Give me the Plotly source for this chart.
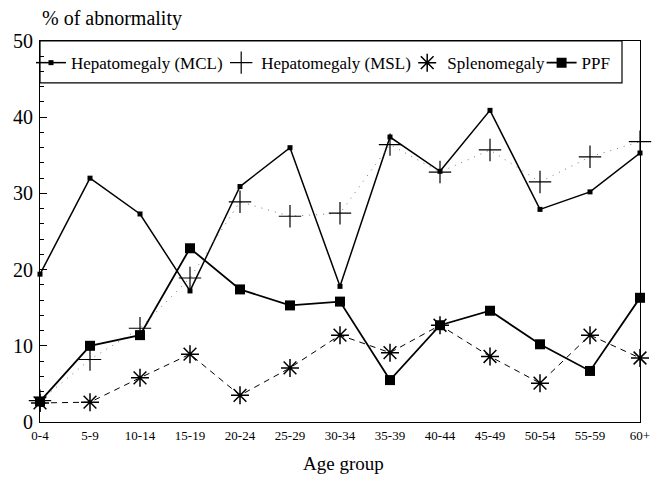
import plotly.graph_objects as go

age_groups = ["0-4", "5-9", "10-14", "15-19", "20-24", "25-29", "30-34",
              "35-39", "40-44", "45-49", "50-54", "55-59", "60+"]
hep_mcl = [19.4, 32.0, 27.3, 17.2, 30.9, 36.0, 17.8, 37.4, 32.9, 40.9, 27.9, 30.2, 35.3]
hep_msl = [2.8, 8.2, 12.3, 18.9, 28.9, 27.0, 27.4, 36.4, 32.8, 35.7, 31.5, 34.8, 36.8]
spleno = [2.5, 2.6, 5.8, 8.9, 3.5, 7.1, 11.4, 9.1, 12.7, 8.6, 5.1, 11.4, 8.4]
ppf = [2.7, 10.0, 11.4, 22.8, 17.4, 15.3, 15.8, 5.5, 12.7, 14.6, 10.2, 6.7, 16.3]
y_ticks = [0, 10, 20, 30, 40, 50]

x_idx = list(range(len(age_groups)))
FONT = "Liberation Serif, Times New Roman, serif"

msl_marker = dict(symbol="cross-thin", size=16, color="black",
                  line=dict(color="black", width=1.2))
spl_marker = dict(symbol="asterisk", size=15, color="black",
                  line=dict(color="black", width=1.5))

fig = go.Figure()
fig.add_trace(go.Scatter(
    x=x_idx, y=hep_mcl, name="Hepatomegaly (MCL)", mode="lines+markers",
    legend="legend",
    line=dict(color="black", width=1.5),
    marker=dict(symbol="square", size=5, color="black"), cliponaxis=False))
fig.add_trace(go.Scatter(
    x=x_idx, y=hep_msl, name="Hepatomegaly (MSL)", mode="lines+markers",
    showlegend=False,
    line=dict(color="#777777", width=1, dash="1px,6px"),
    marker=msl_marker, cliponaxis=False))
fig.add_trace(go.Scatter(
    x=x_idx, y=spleno, name="Splenomegaly", mode="lines+markers",
    showlegend=False,
    line=dict(color="black", width=1, dash="6px,5px"),
    marker=spl_marker, cliponaxis=False))
fig.add_trace(go.Scatter(
    x=x_idx, y=ppf, name="PPF", mode="lines+markers",
    legend="legend4",
    line=dict(color="black", width=1.8),
    marker=dict(symbol="square", size=10, color="black"), cliponaxis=False))
# legend entries showing the marker only (as in the original legend)
fig.add_trace(go.Scatter(x=[None], y=[None], name="Hepatomegaly (MSL)", mode="markers",
                         legend="legend2", marker=msl_marker))
fig.add_trace(go.Scatter(x=[None], y=[None], name="Splenomegaly", mode="markers",
                         legend="legend3", marker=spl_marker))

# legend frame
fig.add_shape(type="rect", xref="paper", yref="paper",
              x0=0, x1=0.97, y0=0.89, y1=1.0,
              line=dict(color="black", width=1.2), fillcolor="rgba(0,0,0,0)")

fig.add_annotation(text="% of abnormality", xref="paper", yref="paper",
                   x=0.0, y=1.060, xanchor="left", yanchor="middle",
                   showarrow=False,
                   font=dict(family=FONT, size=20, color="black"))
fig.add_annotation(text="Age group", xref="paper", yref="paper",
                   x=0.505, y=-0.110, xanchor="center", yanchor="middle",
                   showarrow=False,
                   font=dict(family=FONT, size=19, color="black"))

leg_common = dict(orientation="h", yanchor="middle", xanchor="left", y=0.942,
                  bgcolor="rgba(0,0,0,0)", borderwidth=0, itemwidth=30,
                  font=dict(family=FONT, size=17, color="black"))

fig.update_layout(
    width=661, height=477,
    margin=dict(l=40, r=21, t=41, b=55, autoexpand=False),
    paper_bgcolor="white", plot_bgcolor="white",
    font=dict(family=FONT, color="black"),
    showlegend=True,
    legend=dict(x=-0.015, **leg_common),
    legend2=dict(x=0.302, **leg_common),
    legend3=dict(x=0.612, **leg_common),
    legend4=dict(x=0.836, **leg_common),
    xaxis=dict(
        range=[0, 12], tickmode="array", tickvals=x_idx, ticktext=age_groups,
        automargin=False, ticklabelstandoff=1,
        showgrid=False, zeroline=False, showline=True, linecolor="black",
        linewidth=1.2, mirror=True, ticks="", tickfont=dict(family=FONT, size=13)),
    yaxis=dict(
        range=[0, 50], tickmode="array", tickvals=y_ticks,
        automargin=False, ticklabelstandoff=2,
        showgrid=False, zeroline=False, showline=True, linecolor="black",
        linewidth=1.2, mirror=True, ticks="inside", ticklen=7, tickwidth=1,
        tickcolor="black", tickfont=dict(family=FONT, size=20),
        minor=dict(tickmode="array", tickvals=[2, 4, 6, 8, 12, 14, 16, 18, 22, 24, 26, 28,
                                               32, 34, 36, 38, 42, 44, 46, 48],
                   ticks="inside", ticklen=4, tickcolor="black", showgrid=False)),
)

fig.write_html("out.html", config={"displayModeBar": False},
               post_script="document.body.style.margin='0';")
